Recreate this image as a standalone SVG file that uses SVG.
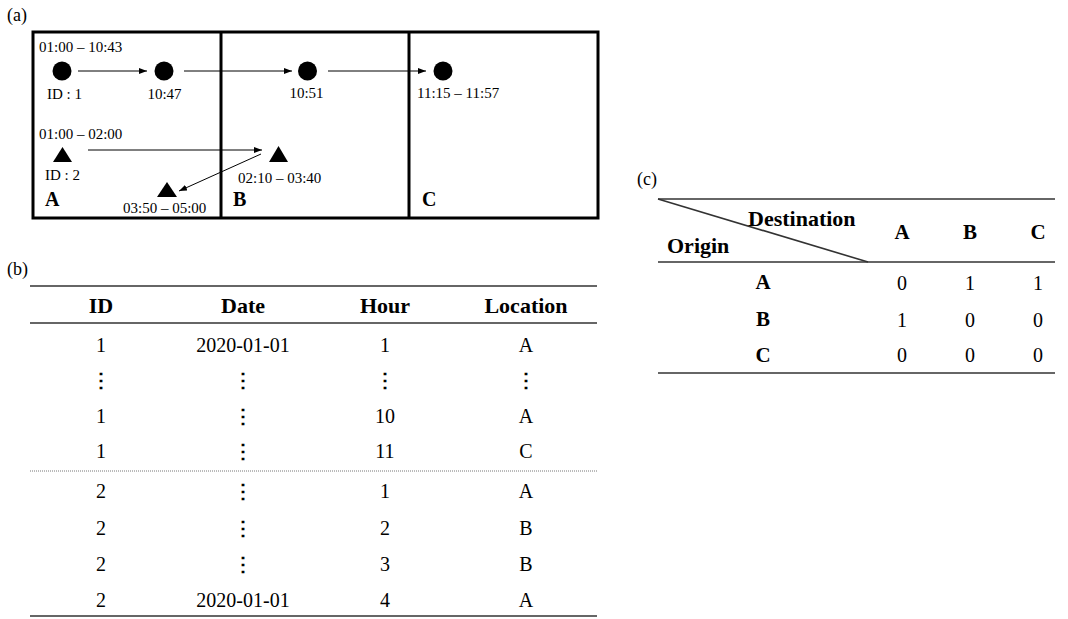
<svg xmlns="http://www.w3.org/2000/svg" width="1068" height="619" viewBox="0 0 1068 619">
<defs>
<marker id="ah" viewBox="0 0 8 6" refX="8" refY="3" markerWidth="8" markerHeight="6" markerUnits="userSpaceOnUse" orient="auto">
<path d="M0,0 L8,3 L0,6 z" fill="#000"/>
</marker>
</defs>
<rect width="1068" height="619" fill="#fff"/>

<g font-family="Liberation Serif, serif" fill="#000">
<text x="7" y="21" font-size="18">(a)</text>
<text x="7" y="275" font-size="18">(b)</text>
<text x="637" y="185" font-size="18">(c)</text>

<g id="zones">
<g fill="none" stroke="#000" stroke-width="3">
<rect x="33" y="32" width="565" height="186"/>
<line x1="221" y1="32" x2="221" y2="218"/>
<line x1="409" y1="32" x2="409" y2="218"/>
</g>
<g font-size="20" font-weight="bold">
<text x="45" y="206">A</text>
<text x="233" y="206">B</text>
<text x="422" y="206">C</text>
</g>
</g>

<g font-size="15">
<g id="p1a"><circle cx="62" cy="71" r="9.5"/><text x="39" y="52">01:00 – 10:43</text><text x="47" y="99">ID : 1</text></g>
<g id="p1b"><circle cx="164" cy="71" r="9.5"/><text x="164.5" y="99" text-anchor="middle">10:47</text></g>
<g id="p1c"><circle cx="307.5" cy="71" r="9.5"/><text x="306.5" y="98" text-anchor="middle">10:51</text></g>
<g id="p1d"><circle cx="443" cy="71" r="9.5"/><text x="417" y="98">11:15 – 11:57</text></g>
<g id="p2a"><path d="M62.5,147 L72,162 L53,162 z"/><text x="39" y="139">01:00 – 02:00</text><text x="45" y="180">ID : 2</text></g>
<g id="p2b"><path d="M278.5,146 L288,162 L269,162 z"/><text x="238" y="183">02:10 – 03:40</text></g>
<g id="p2c"><path d="M167,182 L177,197 L157,197 z"/><text x="123" y="213">03:50 – 05:00</text></g>
</g>

<g id="connectors" stroke="#000" stroke-width="1" fill="none">
<line x1="78" y1="71" x2="147" y2="71" marker-end="url(#ah)"/>
<line x1="184" y1="71" x2="292" y2="71" marker-end="url(#ah)"/>
<line x1="328" y1="71" x2="426" y2="71" marker-end="url(#ah)"/>
<line x1="88" y1="150" x2="262" y2="150" marker-end="url(#ah)"/>
<line x1="261" y1="154" x2="179" y2="191" marker-end="url(#ah)"/>
</g>

<g id="tableB">
<g stroke="#333" stroke-width="1.6">
<line x1="30" y1="286" x2="597" y2="286"/>
<line x1="30" y1="323" x2="597" y2="323"/>
<line x1="30" y1="616" x2="597" y2="616"/>
</g>
<line x1="30" y1="471" x2="597" y2="471" stroke="#777" stroke-width="1" stroke-dasharray="1,1"/>
<g font-size="22" font-weight="bold" text-anchor="middle">
<text x="101" y="313">ID</text>
<text x="243" y="313">Date</text>
<text x="385" y="313">Hour</text>
<text x="526" y="313">Location</text>
</g>
<g font-size="20" text-anchor="middle">
<text x="101" y="352">1</text><text x="243" y="352">2020-01-01</text><text x="385" y="352">1</text><text x="526" y="352">A</text>
<text x="101" y="423">1</text><text x="385" y="423">10</text><text x="526" y="423">A</text>
<text x="101" y="458">1</text><text x="385" y="458">11</text><text x="526" y="458">C</text>
<text x="101" y="498">2</text><text x="385" y="498">1</text><text x="526" y="498">A</text>
<text x="101" y="535">2</text><text x="385" y="535">2</text><text x="526" y="535">B</text>
<text x="101" y="571">2</text><text x="385" y="571">3</text><text x="526" y="571">B</text>
<text x="101" y="607">2</text><text x="243" y="607">2020-01-01</text><text x="385" y="607">4</text><text x="526" y="607">A</text>
</g>
<g font-size="20" font-weight="bold" text-anchor="middle">
<text x="101" y="387">⋮</text><text x="243" y="387">⋮</text><text x="385" y="387">⋮</text><text x="526" y="387">⋮</text>
<text x="243" y="423">⋮</text><text x="243" y="458">⋮</text><text x="243" y="498">⋮</text><text x="243" y="535">⋮</text><text x="243" y="571">⋮</text>
</g>
</g>

<g id="tableC">
<g stroke="#333" stroke-width="1.6">
<line x1="658" y1="199" x2="1055" y2="199"/>
<line x1="658" y1="199" x2="868" y2="262"/>
<line x1="658" y1="262" x2="1055" y2="262"/>
<line x1="658" y1="373" x2="1055" y2="373"/>
</g>
<g font-size="22" font-weight="bold">
<text x="748" y="226">Destination</text>
<text x="667" y="253">Origin</text>
</g>
<g font-size="21" font-weight="bold" text-anchor="middle">
<text x="902" y="239">A</text><text x="970" y="239">B</text><text x="1038" y="239">C</text>
<text x="763" y="289">A</text><text x="763" y="326">B</text><text x="763" y="362">C</text>
</g>
<g font-size="20" text-anchor="middle">
<text x="902" y="290">0</text><text x="970" y="290">1</text><text x="1038" y="290">1</text>
<text x="902" y="327">1</text><text x="970" y="327">0</text><text x="1038" y="327">0</text>
<text x="902" y="362">0</text><text x="970" y="362">0</text><text x="1038" y="362">0</text>
</g>
</g>
</g>
</svg>
